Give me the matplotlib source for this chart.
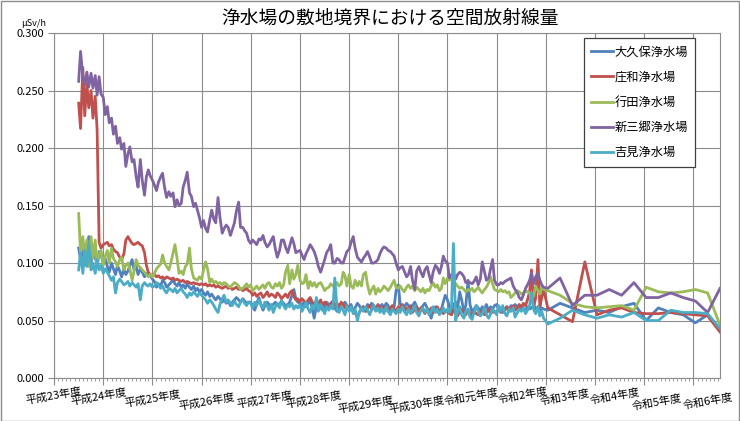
import matplotlib
matplotlib.use('Agg')
import matplotlib.pyplot as plt
import matplotlib.dates as mdates
import matplotlib.transforms as mtrans
from matplotlib.ticker import FixedLocator, FormatStrFormatter, NullFormatter
from matplotlib.patches import Rectangle
import pandas as pd

plt.rcParams['font.family'] = ['Noto Sans CJK JP', 'DejaVu Sans']

# semi-monthly readings Oct 2011 - Mar 2021, then quarterly Apr 2021 - Oct 2024
dense_dates = pd.date_range('2011-10-01', periods=228, freq='SMS')
quarter_dates = pd.date_range('2021-04-01', periods=15, freq='3MS') + pd.Timedelta(days=14)
dates = dense_dates.append(quarter_dates)

year_labels = ['平成23年度', '平成24年度', '平成25年度', '平成26年度', '平成27年度',
               '平成28年度', '平成29年度', '平成30年度', '令和元年度', '令和2年度',
               '令和3年度', '令和4年度', '令和5年度', '令和6年度']
year_starts = pd.date_range('2011-04-01', periods=14, freq='12MS')

# label placement (pixels from the tick) - the original axis staggers them
label_dx = [0, -5, 0, 5, 14, 14, 17, 18, 24, 26, 19, 20, 13, 14]
label_dy = [18, 19, 21, 24, 22, 22, 27, 27, 19, 17, 19, 18, 24, 23]

names = ['大久保浄水場', '庄和浄水場', '行田浄水場', '新三郷浄水場', '吉見浄水場']
colors = ['#4F81BD', '#C0504D', '#9BBB59', '#8064A2', '#4BACC6']

# 大久保
okubo = [
    0.113, 0.103, 0.117, 0.098, 0.11, 0.123, 0.1, 0.112, 0.105, 0.098, 0.11, 0.107,
    0.1, 0.104, 0.097, 0.092, 0.1, 0.095, 0.09, 0.098, 0.093, 0.088, 0.095, 0.09,
    0.093, 0.098, 0.103, 0.094, 0.097, 0.09, 0.095, 0.092, 0.088, 0.091, 0.09, 0.089,
    0.086, 0.084, 0.079, 0.082, 0.08, 0.085, 0.083, 0.079, 0.081, 0.083, 0.085, 0.082,
    0.08, 0.083, 0.079, 0.081, 0.078, 0.082, 0.079, 0.077, 0.08, 0.076, 0.078, 0.075,
    0.077, 0.074, 0.072, 0.075, 0.071, 0.073, 0.07, 0.068, 0.071, 0.069, 0.066, 0.068,
    0.065, 0.067, 0.063, 0.066, 0.068, 0.07, 0.068, 0.066, 0.069, 0.067, 0.065, 0.066,
    0.066, 0.062, 0.059, 0.065, 0.07, 0.064, 0.059, 0.063, 0.066, 0.064, 0.062, 0.064,
    0.066, 0.063, 0.064, 0.067, 0.065, 0.063, 0.064, 0.066, 0.072, 0.077, 0.069, 0.066,
    0.065, 0.063, 0.066, 0.062, 0.065, 0.067, 0.061, 0.052, 0.063, 0.065, 0.061, 0.059,
    0.062, 0.066, 0.064, 0.063, 0.065, 0.061, 0.058, 0.062, 0.065, 0.064, 0.066, 0.063,
    0.061, 0.064, 0.058, 0.061, 0.065, 0.063, 0.06, 0.062, 0.058, 0.064, 0.062, 0.065,
    0.063, 0.061, 0.059, 0.062, 0.064, 0.061, 0.065, 0.063, 0.058, 0.06, 0.062, 0.076,
    0.081, 0.064, 0.063, 0.062, 0.065, 0.063, 0.06, 0.063, 0.066, 0.062, 0.058, 0.06,
    0.063, 0.065, 0.061, 0.057, 0.052, 0.058, 0.062, 0.058, 0.056, 0.06, 0.066, 0.072,
    0.068, 0.062, 0.058, 0.064, 0.066, 0.061, 0.075, 0.068, 0.058, 0.063, 0.085, 0.064,
    0.057, 0.06, 0.063, 0.061, 0.058, 0.062, 0.06, 0.064, 0.058, 0.062, 0.06, 0.063,
    0.064, 0.059, 0.061, 0.057, 0.06, 0.062, 0.059, 0.063, 0.06, 0.064, 0.062, 0.06,
    0.063, 0.061, 0.059, 0.062, 0.06, 0.061, 0.063, 0.06, 0.062, 0.059, 0.061, 0.06,
    0.059, 0.065, 0.061, 0.057, 0.059, 0.057, 0.062, 0.065, 0.05, 0.061, 0.057, 0.055,
    0.048, 0.055, 0.042,
]

# 庄和
showa = [
    0.239, 0.217, 0.27, 0.228, 0.256, 0.235, 0.25, 0.226, 0.245, 0.216, 0.118, 0.113,
    0.116, 0.117, 0.118, 0.115, 0.116, 0.112, 0.11, 0.109, 0.105, 0.103, 0.108, 0.12,
    0.123, 0.12, 0.117, 0.116, 0.117, 0.118, 0.116, 0.115, 0.109, 0.098, 0.092, 0.09,
    0.089, 0.09, 0.088, 0.089, 0.087, 0.088, 0.086, 0.088, 0.087, 0.086, 0.087, 0.085,
    0.086, 0.085, 0.084, 0.085, 0.083, 0.084, 0.083, 0.082, 0.083, 0.082, 0.082, 0.081,
    0.082, 0.081, 0.082, 0.08, 0.081, 0.08, 0.081, 0.079, 0.08, 0.079, 0.078, 0.079,
    0.08, 0.078, 0.079, 0.077, 0.078, 0.079, 0.077, 0.078, 0.076, 0.077, 0.078, 0.076,
    0.075, 0.072, 0.074, 0.071, 0.073, 0.074, 0.07, 0.072, 0.075, 0.071, 0.073, 0.072,
    0.07, 0.074, 0.072, 0.069, 0.071, 0.073, 0.07, 0.074, 0.076, 0.071, 0.068, 0.069,
    0.066, 0.069, 0.067, 0.065, 0.068, 0.07, 0.066, 0.064, 0.067, 0.065, 0.068, 0.063,
    0.066, 0.064, 0.06, 0.065, 0.067, 0.063, 0.065, 0.062, 0.066, 0.064, 0.061, 0.063,
    0.062, 0.06, 0.058, 0.056, 0.054, 0.057, 0.06, 0.062, 0.058, 0.061, 0.063, 0.059,
    0.062, 0.06, 0.064, 0.061, 0.059, 0.062, 0.06, 0.058, 0.061, 0.063, 0.06, 0.058,
    0.062, 0.06, 0.064, 0.058, 0.061, 0.059, 0.063, 0.057, 0.06, 0.062, 0.058, 0.061,
    0.059, 0.056, 0.06, 0.058, 0.061, 0.057, 0.059, 0.062, 0.058, 0.06, 0.056, 0.059,
    0.058, 0.056, 0.055, 0.059, 0.057, 0.054, 0.058, 0.06, 0.057, 0.055, 0.059, 0.056,
    0.054, 0.058, 0.056, 0.055, 0.057, 0.059, 0.055, 0.057, 0.06, 0.056, 0.058, 0.057,
    0.058, 0.06, 0.057, 0.061, 0.059, 0.062, 0.058, 0.06, 0.063, 0.059, 0.061, 0.064,
    0.06, 0.065, 0.063, 0.068, 0.075, 0.094, 0.062, 0.07, 0.103, 0.062, 0.07, 0.077,
    0.061, 0.055, 0.049, 0.101, 0.055, 0.059, 0.061, 0.057, 0.056, 0.056, 0.057, 0.056,
    0.055, 0.054, 0.04,
]

# 行田
gyoda = [
    0.143, 0.109, 0.123, 0.105, 0.12, 0.097, 0.123, 0.104, 0.12, 0.097, 0.108, 0.111,
    0.098, 0.106, 0.111, 0.1, 0.113, 0.104, 0.101, 0.097, 0.103, 0.105, 0.094, 0.098,
    0.1, 0.095, 0.085, 0.093, 0.103, 0.098, 0.096, 0.094, 0.092, 0.09, 0.088, 0.09,
    0.088, 0.091, 0.095, 0.097, 0.099, 0.107, 0.1, 0.097, 0.094, 0.1, 0.109, 0.116,
    0.104, 0.091, 0.093, 0.09, 0.097, 0.099, 0.113, 0.095, 0.087, 0.086, 0.085, 0.088,
    0.086, 0.094, 0.101, 0.095, 0.083, 0.086, 0.083, 0.084, 0.082, 0.083, 0.081, 0.083,
    0.082, 0.08, 0.079, 0.081, 0.083, 0.082, 0.08, 0.077, 0.078, 0.08, 0.082, 0.079,
    0.081, 0.076, 0.078, 0.08, 0.077, 0.079, 0.081, 0.078, 0.082, 0.083, 0.079, 0.078,
    0.082, 0.08, 0.083, 0.078, 0.081, 0.092, 0.098, 0.082, 0.094, 0.086, 0.09, 0.098,
    0.085, 0.082, 0.083, 0.09, 0.078, 0.084, 0.08, 0.083, 0.079, 0.082, 0.083, 0.08,
    0.076, 0.078, 0.079, 0.082, 0.08, 0.081, 0.083, 0.08, 0.082, 0.092, 0.089, 0.08,
    0.09, 0.08, 0.078, 0.085, 0.08, 0.084, 0.08, 0.09, 0.092, 0.081, 0.073, 0.077,
    0.08, 0.073, 0.078, 0.075, 0.077, 0.08, 0.078, 0.076, 0.079, 0.082, 0.085, 0.079,
    0.078, 0.08, 0.077, 0.075, 0.079, 0.081, 0.078, 0.08, 0.076, 0.079, 0.077, 0.075,
    0.078, 0.074, 0.077, 0.076, 0.08, 0.083, 0.079, 0.081, 0.076, 0.078, 0.087, 0.082,
    0.087, 0.085, 0.088, 0.084, 0.082, 0.08, 0.078, 0.079, 0.077, 0.075, 0.077, 0.076,
    0.078, 0.075, 0.077, 0.079, 0.076, 0.074, 0.077, 0.079, 0.083, 0.088, 0.082, 0.077,
    0.076, 0.075, 0.077, 0.075, 0.076, 0.074, 0.075, 0.07, 0.072, 0.074, 0.076, 0.075,
    0.073, 0.074, 0.076, 0.075, 0.074, 0.068, 0.072, 0.08, 0.076, 0.073, 0.079, 0.077,
    0.076, 0.072, 0.065, 0.062, 0.061, 0.062, 0.063, 0.059, 0.079, 0.075, 0.074, 0.075,
    0.077, 0.074, 0.046,
]

# 新三郷
shinmisato = [
    0.258, 0.284, 0.262, 0.255, 0.266, 0.253, 0.265, 0.252, 0.263, 0.246, 0.262, 0.247,
    0.244, 0.229, 0.236, 0.222, 0.226, 0.212, 0.219, 0.204, 0.209, 0.199, 0.204, 0.184,
    0.195, 0.201, 0.188, 0.19, 0.175, 0.166, 0.19, 0.172, 0.159, 0.175, 0.181, 0.176,
    0.172, 0.168, 0.163, 0.17, 0.175, 0.178, 0.165, 0.157, 0.162, 0.158, 0.161, 0.149,
    0.155, 0.15, 0.152, 0.166, 0.172, 0.179, 0.161, 0.158, 0.149, 0.152, 0.146, 0.14,
    0.131, 0.137, 0.13, 0.127, 0.138, 0.146, 0.138, 0.135, 0.157, 0.14, 0.126, 0.13,
    0.133, 0.131, 0.124, 0.129, 0.135, 0.145, 0.153, 0.131, 0.131, 0.128, 0.126, 0.12,
    0.117, 0.12, 0.118, 0.116, 0.121, 0.12, 0.124, 0.118, 0.114, 0.116, 0.12, 0.123,
    0.112, 0.105, 0.111, 0.12, 0.12, 0.114, 0.109, 0.115, 0.122, 0.117, 0.109, 0.11,
    0.111, 0.107, 0.103, 0.108, 0.112, 0.116, 0.113, 0.11, 0.104, 0.097, 0.092, 0.097,
    0.103, 0.109, 0.112, 0.116, 0.1, 0.1, 0.104, 0.103, 0.1, 0.1, 0.105, 0.11,
    0.112, 0.118, 0.123, 0.113, 0.105, 0.103, 0.101, 0.104, 0.107, 0.11, 0.105, 0.1,
    0.1, 0.101, 0.103, 0.108, 0.112, 0.114, 0.113, 0.111, 0.11, 0.108, 0.106, 0.1,
    0.094, 0.096, 0.097, 0.093, 0.088, 0.09, 0.097, 0.085, 0.077, 0.093, 0.097, 0.092,
    0.088, 0.094, 0.097, 0.09, 0.083, 0.092, 0.098, 0.096, 0.091, 0.097, 0.106, 0.102,
    0.1, 0.087, 0.09, 0.091, 0.086, 0.09, 0.092, 0.091, 0.088, 0.083, 0.084, 0.083,
    0.082, 0.084, 0.088, 0.081, 0.086, 0.101, 0.092, 0.085, 0.087, 0.095, 0.103, 0.085,
    0.081, 0.081, 0.083, 0.082, 0.084, 0.085, 0.086, 0.087, 0.08, 0.077, 0.074, 0.07,
    0.068, 0.072, 0.078, 0.081, 0.085, 0.091, 0.082, 0.088, 0.091, 0.085, 0.081, 0.079,
    0.078, 0.087, 0.063, 0.072, 0.072, 0.077, 0.072, 0.083, 0.07, 0.07, 0.074, 0.07,
    0.067, 0.057, 0.078,
]

# 吉見
yoshimi = [
    0.094, 0.109, 0.091, 0.111, 0.097, 0.117, 0.094, 0.1, 0.091, 0.103, 0.094, 0.098,
    0.091, 0.095, 0.092, 0.089, 0.085, 0.088, 0.074, 0.083, 0.086, 0.084, 0.081, 0.082,
    0.084, 0.08, 0.083, 0.081, 0.079, 0.082, 0.068, 0.08, 0.083, 0.081, 0.08, 0.082,
    0.079, 0.08, 0.083, 0.081, 0.078, 0.08, 0.076, 0.074, 0.078, 0.077, 0.075, 0.078,
    0.074, 0.076, 0.078, 0.075, 0.073, 0.07, 0.074, 0.072, 0.075, 0.073, 0.071, 0.074,
    0.072, 0.07, 0.068, 0.065, 0.068, 0.066, 0.063, 0.06, 0.057, 0.064, 0.069, 0.072,
    0.066, 0.068, 0.065, 0.063, 0.067, 0.064, 0.062, 0.066, 0.068, 0.065, 0.063, 0.066,
    0.065, 0.061, 0.066, 0.063, 0.068, 0.064, 0.061, 0.066, 0.063, 0.059, 0.064, 0.057,
    0.062, 0.065, 0.061, 0.067, 0.063, 0.06, 0.064, 0.062, 0.065, 0.06, 0.063, 0.061,
    0.064, 0.058, 0.062, 0.066, 0.06, 0.057, 0.063, 0.06, 0.07, 0.058, 0.064, 0.061,
    0.056, 0.062, 0.059, 0.063, 0.06, 0.087, 0.06, 0.057, 0.062, 0.059, 0.055, 0.063,
    0.058, 0.062, 0.056, 0.06, 0.05, 0.057, 0.061, 0.058, 0.062, 0.059, 0.055, 0.06,
    0.063, 0.058, 0.061, 0.057, 0.06, 0.056, 0.062, 0.058, 0.055, 0.06, 0.058, 0.056,
    0.06, 0.057, 0.062, 0.058, 0.055, 0.06, 0.056, 0.059, 0.063, 0.057, 0.054, 0.059,
    0.061, 0.057, 0.06, 0.055, 0.058, 0.062, 0.057, 0.06, 0.055, 0.058, 0.061, 0.057,
    0.06, 0.057, 0.062, 0.117, 0.05, 0.058, 0.062, 0.055, 0.052, 0.058, 0.06, 0.053,
    0.051, 0.057, 0.063, 0.058, 0.054, 0.056, 0.061, 0.055, 0.052, 0.056, 0.06, 0.058,
    0.055, 0.063, 0.058, 0.063, 0.056, 0.054, 0.06, 0.058, 0.061, 0.053, 0.057, 0.06,
    0.058, 0.061, 0.056, 0.059, 0.063, 0.074, 0.059, 0.056, 0.062, 0.054, 0.058, 0.052,
    0.047, 0.052, 0.059, 0.055, 0.052, 0.055, 0.053, 0.057, 0.05, 0.05, 0.059, 0.057,
    0.057, 0.056, 0.043,
]

series = [okubo, showa, gyoda, shinmisato, yoshimi]

fig = plt.figure(figsize=(7.4, 4.21), dpi=100)
ax = fig.add_axes([0.073, 0.102, 0.9, 0.8196])

for vals, name, c in zip(series, names, colors):
    ax.plot(dates, vals, color=c, lw=2, label=name, solid_joinstyle='round')

gridc = '#8c8c8c'
ax.set_ylim(0, 0.3)
ax.set_yticks([0, 0.05, 0.1, 0.15, 0.2, 0.25, 0.3])
ax.yaxis.set_major_formatter(FormatStrFormatter('%.3f'))
ax.set_xlim(pd.Timestamp('2011-04-01'), dates[-1])

ax.xaxis.set_major_locator(FixedLocator(mdates.date2num(year_starts)))
ax.xaxis.set_major_formatter(NullFormatter())
ax.xaxis.set_minor_locator(mdates.MonthLocator())

# fiscal-year labels, slightly tilted and staggered like the original
base = mtrans.blended_transform_factory(ax.transData, ax.transAxes)
for d, lab, dx, dy in zip(year_starts, year_labels, label_dx, label_dy):
    tr = mtrans.offset_copy(base, fig=fig, x=dx * 0.72, y=-dy * 0.72, units='points')
    ax.text(mdates.date2num(d), 0, lab, transform=tr, rotation=10, rotation_mode='anchor',
            ha='center', va='center', fontsize=8, clip_on=False)

ax.grid(True, which='major', color=gridc, lw=0.8)
ax.tick_params(axis='x', which='major', length=5, color=gridc)
ax.tick_params(axis='x', which='minor', length=2.5, color=gridc)
ax.tick_params(axis='y', length=4, color=gridc, labelsize=8, pad=3)
for s in ax.spines.values():
    s.set_color(gridc)
    s.set_linewidth(0.8)

fig.text(0.527, 0.957, '浄水場の敷地境界における空間放射線量', ha='center', va='center', fontsize=13.5)
fig.text(0.045, 0.945, 'μSv/h', ha='center', va='center', fontsize=6.5)

leg = ax.legend(loc='upper left', bbox_to_anchor=(0.789, 0.9097), bbox_transform=fig.transFigure,
                fontsize=8.8, handlelength=1.8, handletextpad=0.1,
                labelspacing=1.0, borderpad=0.6, borderaxespad=0, fancybox=False,
                framealpha=1, edgecolor='#404040')
leg.get_frame().set_linewidth(0.9)

fig.patches.append(Rectangle((0.001, 0.001), 0.998, 0.997, transform=fig.transFigure,
                             fill=False, edgecolor='#8c8c8c', lw=1))

fig.savefig('out.png', dpi=100)
